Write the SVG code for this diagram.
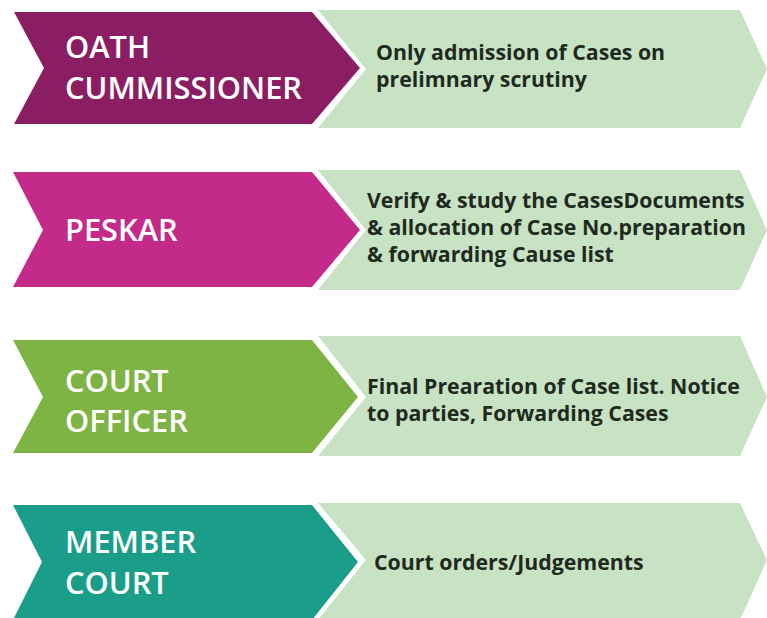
<svg xmlns="http://www.w3.org/2000/svg" width="767" height="618" viewBox="0 0 767 618">
  <style>
    .role { font-family: "Open Sans", "Liberation Sans", sans-serif; font-weight: 600; font-size: 30.8px; fill: #ffffff; }
    .desc { font-family: "Open Sans", "Liberation Sans", sans-serif; font-weight: 700; font-size: 21.3px; fill: #1f2a1f; }
    .light { fill: #c8e3c4; }
  </style>
  <rect width="767" height="618" fill="#ffffff"/>
  <g id="connectors"/>
  <g id="row-oath">
    <polygon class="light" points="318,10 740,10 767,69 740,128 318,128 366,69"/>
    <polygon fill="#8b1e62" points="14,12 312,12 360,68 312,124 14,124 44,68"/>
    <text class="role" x="65" y="58">OATH</text>
    <text class="role" x="65" y="99">CUMMISSIONER</text>
    <text class="desc" x="376" y="60">Only admission of Cases on</text>
    <text class="desc" x="376" y="87">prelimnary scrutiny</text>
  </g>
  <g id="row-peskar">
    <polygon class="light" points="318,170 740,170 767,230 740,290 318,290 366,230"/>
    <polygon fill="#c42a8a" points="13,172 312,172 360,230 312,287 13,287 43,230"/>
    <text class="role" x="65" y="241">PESKAR</text>
    <text class="desc" x="367" y="208">Verify &amp; study the CasesDocuments</text>
    <text class="desc" x="367" y="235">&amp; allocation of Case No.preparation</text>
    <text class="desc" x="367" y="262">&amp; forwarding Cause list</text>
  </g>
  <g id="row-court-officer">
    <polygon class="light" points="318,336 740,336 767,397 740,456 318,456 366,397"/>
    <polygon fill="#7db443" points="13,340 312,340 358,397 312,453 13,453 43,397"/>
    <text class="role" x="65" y="392">COURT</text>
    <text class="role" x="65" y="432">OFFICER</text>
    <text class="desc" x="367" y="394">Final Prearation of Case list. Notice</text>
    <text class="desc" x="367" y="421">to parties, Forwarding Cases</text>
  </g>
  <g id="row-member-court">
    <polygon class="light" points="318,503 740,503 767,560 740,620 318,620 366,560"/>
    <polygon fill="#1a9e8a" points="13,505 312,505 358,562 312,620 13,620 42,562"/>
    <text class="role" x="65" y="553">MEMBER</text>
    <text class="role" x="65" y="594">COURT</text>
    <text class="desc" x="374" y="570">Court orders/Judgements</text>
  </g>
</svg>
